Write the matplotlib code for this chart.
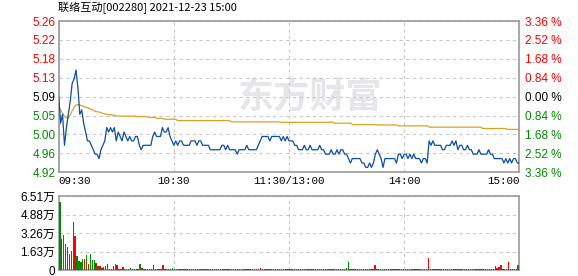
import numpy as np
import matplotlib
matplotlib.use("Agg")
import matplotlib.pyplot as plt

plt.rcParams['font.family'] = ['Liberation Sans', 'Noto Sans CJK SC', 'DejaVu Sans']

title = "联络互动[002280] 2021-12-23 15:00"
pre_close = 5.09
max_pct = 3.36

# minute prices 09:30 .. 15:00 (241 points)
price = [
    # 09:30 - 10:30
    5.09, 5.03, 5.05, 4.98, 5.02, 5.05, 5.08, 5.12, 5.13, 5.15,
    5.11, 5.05, 5.06, 5.03, 5.01, 4.99, 4.99, 4.98, 4.97, 4.96,
    4.96, 4.95, 4.97, 4.98, 4.99, 5.02, 5.01, 5.02, 5.01, 5.02,
    4.99, 5.01, 5.00, 4.99, 5.01, 5.00, 4.99, 5.00, 4.99, 4.99,
    5.00, 5.00, 4.98, 4.97, 4.98, 4.98, 4.98, 4.98, 4.98, 5.00,
    5.01, 5.00, 5.00, 5.00, 5.02, 5.01, 5.01, 5.02, 5.00, 4.99,
    4.98,
    # 10:31 - 11:30
    4.99, 4.98, 4.99, 4.99, 4.98, 4.98, 4.98, 4.98, 4.99, 4.99,
    4.99, 4.98, 4.99, 4.99, 4.98, 4.98, 4.98, 4.98, 4.97, 4.97,
    4.97, 4.97, 4.97, 4.97, 4.98, 4.98, 4.97, 4.98, 4.97, 4.97,
    4.97, 4.97, 4.96, 4.97, 4.97, 4.97, 4.97, 4.98, 4.97, 4.97,
    4.97, 4.97, 4.97, 4.98, 4.99, 5.00, 5.00, 5.00, 5.00, 4.99,
    5.00, 5.00, 5.00, 5.00, 5.00, 4.99, 5.00, 4.99, 5.00, 4.99,
    # 13:01 - 14:00
    4.99, 4.99, 4.98, 4.98, 4.97, 4.97, 4.97, 4.98, 4.97, 4.97,
    4.98, 4.97, 4.97, 4.97, 4.97, 4.98, 4.97, 4.97, 4.96, 4.96,
    4.96, 4.97, 4.96, 4.96, 4.97, 4.96, 4.97, 4.97, 4.96, 4.96,
    4.95, 4.94, 4.95, 4.95, 4.95, 4.95, 4.95, 4.94, 4.94, 4.93,
    4.93, 4.94, 4.93, 4.94, 4.96, 4.97, 4.96, 4.95, 4.93, 4.95,
    4.95, 4.95, 4.95, 4.95, 4.95, 4.94, 4.96, 4.96, 4.95, 4.96,
    # 14:01 - 15:00
    4.96, 4.95, 4.96, 4.95, 4.96, 4.95, 4.95, 4.95, 4.94, 4.95,
    4.95, 4.94, 4.99, 4.98, 4.99, 4.98, 4.98, 4.98, 4.98, 4.97,
    4.97, 4.98, 4.98, 4.98, 4.99, 4.98, 4.99, 4.97, 4.98, 4.98,
    4.97, 4.97, 4.98, 4.97, 4.97, 4.96, 4.96, 4.96, 4.97, 4.96,
    4.96, 4.96, 4.96, 4.97, 4.96, 4.96, 4.95, 4.95, 4.95, 4.95,
    4.95, 4.94, 4.95, 4.94, 4.95, 4.94, 4.95, 4.95, 4.94, 4.94,
]

# average price: first half hour minute by minute, then flat runs (level, minutes)
avg_head = [5.066, 5.060, 5.052, 5.046, 5.042, 5.042, 5.048, 5.058, 5.066, 5.071,
            5.072, 5.071, 5.070, 5.068, 5.066, 5.065, 5.063, 5.061, 5.059, 5.057,
            5.056, 5.055, 5.054, 5.052, 5.051, 5.050, 5.049, 5.049, 5.048, 5.048,
            5.047]
avg_levels = [5.046, 5.045, 5.043, 5.041, 5.039, 5.036, 5.033, 5.032, 5.030,
              5.027, 5.026, 5.024, 5.021, 5.018, 5.016, 5.013]
avg_counts = [10, 6, 4, 4, 7, 28, 26, 28, 9, 13, 11, 16, 28, 13, 6, 1]

# volume in 万 shares
volume = [
    6.04, 2.74, 3.09, 2.30, 2.03, 1.41, 1.68, 4.24, 3.03, 1.24,
    0.80, 0.74, 0.97, 0.97, 1.33, 0.53, 1.41, 0.88, 0.88, 0.62,
    0.35, 0.35, 0.21, 0.29, 0.38, 0.53, 0.12, 0.12, 0.38, 0.53,
    0.44, 0.12, 0.12, 0.29, 0.12, 0.12, 0.12, 0.21, 0.12, 0.09,
    0.09, 0.12, 0.53, 0.21, 0.09, 0.09, 0.09, 0.09, 0.09, 0.44,
    0.12, 0.09, 0.09, 0.09, 0.44, 0.09, 0.09, 0.09, 0.09, 0.21,
    0.09,
    0.07, 0.06, 0.07, 0.08, 0.06, 0.07, 0.07, 0.06, 0.08, 0.07,
    0.07, 0.06, 0.07, 0.07, 0.08, 0.06, 0.07, 0.07, 0.06, 0.07,
    0.07, 0.06, 0.07, 0.07, 0.08, 0.07, 0.06, 0.07, 0.07, 0.07,
    0.06, 0.07, 0.08, 0.07, 0.07, 0.06, 0.07, 0.07, 0.07, 0.06,
    0.07, 0.07, 0.06, 0.09, 0.15, 0.08, 0.07, 0.07, 0.06, 0.07,
    0.07, 0.07, 0.06, 0.07, 0.07, 0.07, 0.06, 0.07, 0.07, 0.07,
    0.07, 0.06, 0.07, 0.07, 0.07, 0.06, 0.07, 0.07, 0.08, 0.07,
    0.06, 0.07, 0.07, 0.07, 0.06, 0.07, 0.07, 0.07, 0.06, 0.07,
    0.07, 0.06, 0.07, 0.07, 0.07, 0.06, 0.07, 0.07, 0.07, 0.15,
    0.74, 0.07, 0.07, 0.06, 0.07, 0.07, 0.07, 0.06, 0.12, 0.07,
    0.07, 0.06, 0.07, 0.07, 0.47, 0.07, 0.06, 0.12, 0.07, 0.07,
    0.06, 0.07, 0.07, 0.07, 0.06, 0.07, 0.07, 0.07, 0.06, 0.07,
    0.07, 0.06, 0.07, 0.07, 0.07, 0.06, 0.07, 0.07, 0.07, 0.06,
    0.07, 0.07, 1.06, 0.07, 0.07, 0.06, 0.07, 0.07, 0.07, 0.06,
    0.07, 0.07, 0.06, 0.07, 0.07, 0.07, 0.06, 0.07, 0.07, 0.07,
    0.06, 0.07, 0.07, 0.07, 0.06, 0.07, 0.07, 0.07, 0.06, 0.07,
    0.07, 0.06, 0.07, 0.12, 0.07, 0.06, 0.07, 0.35, 0.20, 0.26,
    0.41, 0.07, 0.12, 0.07, 0.68, 0.07, 0.07, 0.06, 0.07, 0.44,
]
# r = red bar, g = green bar
vol_dir = ("grgrrrrrrg" "gggrgrgggr" "grrrrgggrg" "rggrggggrr" "rrgrrrrrrr" "ggrrrrrrrg" "g"
           "rgrrrgrrrrgrrrgrrrrg" "rrrgrrrrgrrrrrgrrrrr" "rrgrrrrrgrrrrrgrrrrr"
           "rrrrgrrrrrrgrrrrrrrr" "rrrrrrrrgggrrrrrrrgr" "rrrrrrrgrrrrrrrrrgrr"
           "rrrgrrrrgrrrrrrrrrrr" "rrrgrrrrrrrrgrrrrrrr" "rrrrrrrrrrrrrrrrrrrg")

price_labels = ["4.92", "4.96", "5.00", "5.05", "5.09", "5.13", "5.18", "5.22", "5.26"]
pct_labels = ["3.36 %", "2.52 %", "1.68 %", "0.84 %", "0.00 %", "0.84 %", "1.68 %", "2.52 %", "3.36 %"]
vol_labels = ["0", "1.63万", "3.26万", "4.88万", "6.51万"]
vol_max = 6.51
time_labels = ["09:30", "10:30", "11:30/13:00", "14:00", "15:00"]

RED = "#ff0000"
GREEN = "#008c00"
GRID = "#c8c8c8"
FRAME = "#9a9a9a"

avg = np.concatenate([avg_head, np.repeat(avg_levels, avg_counts)])
x = np.arange(len(price))

fig = plt.figure(figsize=(5.78, 2.76), dpi=100)
ax = fig.add_axes([0.1016, 0.3757, 0.7968, 0.5482])
axv = fig.add_axes([0.1016, 0.0217, 0.7968, 0.2670])

lo = pre_close * (1 - max_pct / 100)
hi = pre_close * (1 + max_pct / 100)
yt = np.linspace(lo, hi, 9)

# price panel
ax.plot(x, avg, color="#dda21f", lw=0.9, zorder=3)
ax.plot(x, price, color="#0c4ea0", lw=0.9, zorder=4)
ax.set_xlim(0, 240)
ax.set_ylim(lo, hi)
ax.set_yticks(yt)
ax.set_yticklabels(price_labels, fontsize=8.5)
lab_col = [GREEN] * 4 + ["black"] + [RED] * 4
for t, c in zip(ax.get_yticklabels(), lab_col):
    t.set_color(c)
ax.tick_params(axis="y", length=0, pad=2.5)
ax.set_xticks([0, 60, 120, 180, 240])
ax.set_xticklabels(time_labels, fontsize=7.8, family="Liberation Mono")
ax.tick_params(axis="x", length=0, pad=3)
xl = ax.get_xticklabels()
xl[0].set_ha("left")
xl[-1].set_ha("right")
ax.grid(True, color=GRID, lw=0.8, ls=(0, (3, 3)))
for s in ax.spines.values():
    s.set_color(FRAME)
    s.set_linewidth(1.2)

ax2 = ax.twinx()
ax2.set_ylim(lo, hi)
ax2.set_yticks(yt)
ax2.set_yticklabels(pct_labels, fontsize=8.5)
for t, c in zip(ax2.get_yticklabels(), lab_col):
    t.set_color(c)
ax2.tick_params(axis="y", length=0, pad=4)
for s in ax2.spines.values():
    s.set_visible(False)

# watermark
ax.text(0.545, 0.5, "东方财富", transform=ax.transAxes, ha="center", va="center",
        fontsize=26, fontweight="bold", color="#e6e6ea", family="Noto Sans CJK SC", zorder=1)

# title
fig.text(0.1, 0.97, title, ha="left", va="center", fontsize=8, family=["Noto Sans CJK SC"])

# volume panel
cols = [RED if d == "r" else GREEN for d in vol_dir]
axv.bar(x, volume, width=0.7, color=cols, linewidth=0, antialiased=False, zorder=3)
axv.set_xlim(-0.6, 240.6)
axv.set_ylim(0, vol_max)
axv.set_yticks(np.linspace(0, vol_max, 5))
axv.set_yticklabels(vol_labels, fontsize=8.5)
axv.tick_params(axis="y", length=0, pad=2.5)
axv.set_xticks([60, 120, 180])
axv.tick_params(axis="x", length=0, labelbottom=False)
axv.grid(True, color=GRID, lw=0.8, ls=(0, (3, 3)))
for s in axv.spines.values():
    s.set_color(FRAME)
    s.set_linewidth(1.2)

fig.savefig("out.png", dpi=100)
